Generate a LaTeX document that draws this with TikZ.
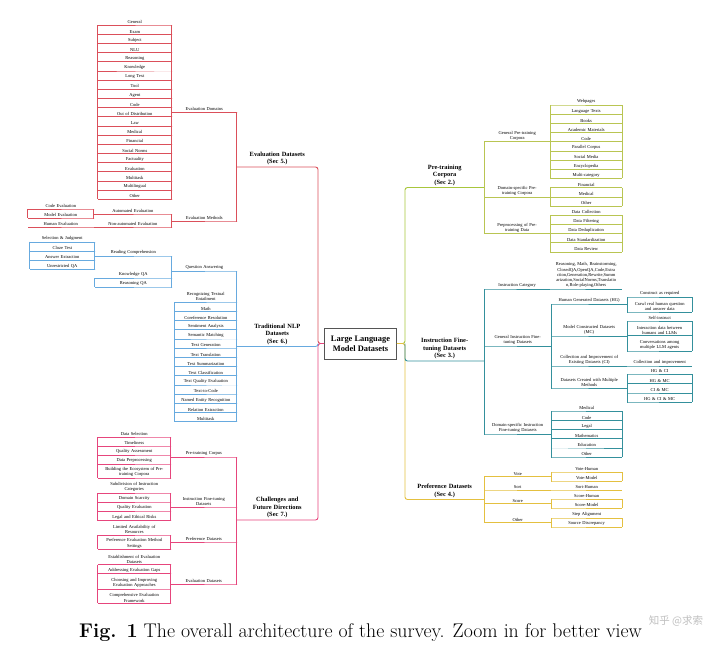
\documentclass[tikz,border=0pt]{standalone}
\usepackage{fontspec}
\newfontfamily\mapfont{Liberation Serif}
\newfontfamily\wmfont{Noto Sans CJK SC}
\definecolor{evalred}{HTML}{DB4F5A}
\definecolor{nlpblue}{HTML}{67AADF}
\definecolor{chalpink}{HTML}{E6457C}
\definecolor{ptgreen}{HTML}{A8C63C}
\definecolor{ptleaf}{HTML}{B9C552}
\definecolor{iftteal}{HTML}{34909C}
\definecolor{prefgold}{HTML}{E4C040}
\definecolor{rootgray}{HTML}{555555}
\tikzset{
  topic/.style={inner xsep=0pt, inner ysep=0.9pt, align=center,
    font=\mapfont\fontsize{4.5}{5.3}\selectfont},
  sect/.style={topic, inner ysep=1.6pt,
    font=\mapfont\bfseries\fontsize{6.4}{7.6}\selectfont},
  trunk/.style={line width=0.9pt, rounded corners=2.5pt},
  twig/.style={line width=0.38pt},
}
\begin{document}
\begin{tikzpicture}[x=1pt, y=-1pt]
    \useasboundingbox (0,0) rectangle (720,651);

    % root and the six sections
    \node[draw=rootgray, line width=0.8pt, minimum width=72pt, minimum height=31pt,
      inner sep=1pt, align=center, font=\mapfont\bfseries\fontsize{8.4}{10}\selectfont]
      (root) at (360.5,343.5) {Large Language\\Model Datasets};
    \node[sect, text width=81pt, anchor=south east] (evds) at (318,167) {Evaluation Datasets\\(Sec 5.)};
    \node[sect, text width=81pt, anchor=south east] (tnlp) at (318,346.5) {Traditional NLP\\Datasets\\(Sec 6.)};
    \node[sect, text width=81pt, anchor=south east] (chal) at (318,520) {Challenges and\\Future Directions\\(Sec 7.)};
    \node[sect, text width=79pt, anchor=south west] (ptc) at (405,187.5) {Pre-training\\Corpora\\(Sec 2.)};
    \node[sect, text width=79pt, anchor=south west] (ift) at (405,361) {Instruction Fine-\\tuning Datasets\\(Sec 3.)};
    \node[sect, text width=79pt, anchor=south west] (pref) at (405,499.5) {Preference Datasets\\(Sec 4.)};

    \draw[trunk, evalred] (root.west) -| (evds.south east) -- (evds.south west);
    \draw[trunk, chalpink] (root.west) -| (chal.south east) -- (chal.south west);
    \draw[trunk, nlpblue] (tnlp.south west) -- (tnlp.south east) -- (tnlp.south east |- root.west);
    \draw[trunk, ptgreen] (root.east) -| (ptc.south west) -- (ptc.south east);
    \draw[trunk, prefgold] (root.east) -| (pref.south west) -- (pref.south east);
    \draw[trunk, iftteal] (ift.south east) -- (ift.south west) -- (ift.south west |- root.east);

    % evaluation datasets
    \node[topic, text width=65pt, anchor=south east] (edom) at (237,111.7) {Evaluation Domains};
    \node[topic, text width=65pt, anchor=south east] (emet) at (237,221) {Evaluation Methods};
    \foreach \n in {edom, emet}
        \draw[twig, evalred] (evds.south west) |- (\n.south east) -- (\n.south west);
    \foreach \t [count=\i from 0] in {General, Exam, Subject, NLU, Reasoning, Knowledge, Long Text,
        Tool, Agent, Code, Out of Distribution, Law, Medical, Financial, Social Norms, Factuality,
        Evaluation, Multitask, Multilingual, Other} {
        \node[topic, text width=74pt, anchor=south east] (dom\i) at (172,25+9.16*\i) {\t};
        \draw[twig, evalred] (edom.south west) |- (dom\i.south east) -- (dom\i.south west);
    }
    \draw[twig, evalred] (dom0.south west) -- (dom19.south west);
    \node[topic, text width=78pt, anchor=south east] (auto) at (172,214) {Automated Evaluation};
    \node[topic, text width=78pt, anchor=south east] (nauto) at (172,227) {Non-automated Evaluation};
    \foreach \n in {auto, nauto}
        \draw[twig, evalred] (emet.south west) |- (\n.south east) -- (\n.south west);
    \node[topic, text width=66pt, anchor=south east] (codev) at (94,209) {Code Evaluation};
    \node[topic, text width=66pt, anchor=south east] (modev) at (94,218) {Model Evaluation};
    \node[topic, text width=66pt, anchor=south east] (humev) at (94,227) {Human Evaluation};
    \foreach \n in {codev, modev}
        \draw[twig, evalred] (auto.south west) |- (\n.south east) -- (\n.south west);
    \draw[twig, evalred] (codev.south west) -- (modev.south west);
    \draw[twig, evalred] (nauto.south west) -- (humev.south east) -- (humev.south west);

    % traditional nlp datasets
    \node[topic, text width=65pt, anchor=south east] (qa) at (237,271) {Question Answering};
    \draw[twig, nlpblue] (tnlp.south west) |- (qa.south east) -- (qa.south west);
    \foreach \y/\t [count=\i] in {302/{Recognizing Textual\\Entailment}, 311.2/Math,
        320.4/Coreference Resolution, 329.6/Sentiment Analysis, 338.8/Semantic Matching,
        348/Text Generation, 357.2/Text Translation, 366.4/Text Summarization,
        375.6/Text Classification, 384.8/Text Quality Evaluation, 394/Text-to-Code,
        403.2/Named Entity Recognition, 412.4/Relation Extraction, 421.6/Multitask} {
        \node[topic, text width=62pt, anchor=south east] (nlp\i) at (237,\y) {\t};
        \draw[twig, nlpblue] (tnlp.south west) |- (nlp\i.south east) -- (nlp\i.south west);
    }
    \draw[twig, nlpblue] (nlp1.south west) -- (nlp14.south west);
    \node[topic, text width=77pt, anchor=south east] (rc) at (172,256) {Reading Comprehension};
    \node[topic, text width=77pt, anchor=south east] (kqa) at (172,278) {Knowledge QA};
    \node[topic, text width=77pt, anchor=south east] (rqa) at (172,287) {Reasoning QA};
    \foreach \n in {rc, kqa, rqa}
        \draw[twig, nlpblue] (qa.south west) |- (\n.south east) -- (\n.south west);
    \draw[twig, nlpblue] (kqa.south west) -- (rqa.south west);
    \foreach \y/\t [count=\i] in {241.7/Selection \& Judgment, 250.9/Cloze Test,
        260.1/Answer Extraction, 269.3/Unrestricted QA} {
        \node[topic, text width=65pt, anchor=south east] (rcq\i) at (95,\y) {\t};
        \draw[twig, nlpblue] (rc.south west) |- (rcq\i.south east) -- (rcq\i.south west);
    }
    \draw[twig, nlpblue] (rcq1.south west) -- (rcq4.south west);

    % challenges and future directions
    \node[topic, text width=66pt, anchor=south east] (cpt) at (237,457) {Pre-training Corpus};
    \node[topic, text width=66pt, anchor=south east] (cift) at (237,507) {Instruction Fine-tuning\\Datasets};
    \node[topic, text width=66pt, anchor=south east] (cpd) at (237,542) {Preference Datasets};
    \node[topic, text width=66pt, anchor=south east] (ced) at (237,584) {Evaluation Datasets};
    \foreach \n in {cpt, cift, cpd, ced}
        \draw[twig, chalpink] (chal.south west) |- (\n.south east) -- (\n.south west);
    \foreach \p/\y/\t [count=\i] in {cpt/437/Data Selection, cpt/446/Timeliness,
        cpt/455/Quality Assessment, cpt/464/Data Preprocessing,
        cpt/478/{Building the Ecosystem of Pre-\\training Corpora},
        cift/493/{Subdivision of Instruction\\Categories}, cift/502/Domain Scarcity,
        cift/511/Quality Evaluation, cift/520.6/Legal and Ethical Risks,
        cpd/535/{Limited Availability of\\Resources}, cpd/549.3/{Preference Evaluation Method\\Settings},
        ced/564.5/{Establishment of Evaluation\\Datasets}, ced/573.3/Addressing Evaluation Gaps,
        ced/589/{Choosing and Improving\\Evaluation Approaches},
        ced/603.3/{Comprehensive Evaluation\\Framework}} {
        \node[topic, text width=73pt, anchor=south east] (cl\i) at (171,\y) {\t};
        \draw[twig, chalpink] (\p.south west) |- (cl\i.south east) -- (cl\i.south west);
    }
    \foreach \a/\b in {1/5, 6/9, 10/11, 12/15}
        \draw[twig, chalpink] (cl\a.south west) -- (cl\b.south west);

    % pre-training corpora
    \node[topic, text width=66pt, anchor=south west] (gpc) at (484,141.5) {General Pre-training\\Corpora};
    \node[topic, text width=66pt, anchor=south west] (dpc) at (484,196.7) {Domain-specific Pre-\\training Corpora};
    \node[topic, text width=66pt, anchor=south west] (ppd) at (484,233.4) {Preprocessing of Pre-\\training Data};
    \foreach \n in {gpc, dpc, ppd}
        \draw[twig, ptleaf] (ptc.south east) |- (\n.south west) -- (\n.south east);
    \foreach \p/\t [count=\i from 0] in {gpc/Webpages, gpc/Language Texts, gpc/Books,
        gpc/Academic Materials, gpc/Code, gpc/Parallel Corpus, gpc/Social Media,
        gpc/Encyclopedia, gpc/Multi-category, dpc/Financial, dpc/Medical, dpc/Other,
        ppd/Data Collection, ppd/Data Filtering, ppd/Data Deduplication,
        ppd/Data Standardization, ppd/Data Review} {
        \node[topic, text width=72pt, anchor=south west] (pt\i) at (550,105+9.17*\i) {\t};
        \draw[twig, ptleaf] (\p.south east) |- (pt\i.south west) -- (pt\i.south east);
    }
    \foreach \a/\b in {0/8, 9/11, 12/16}
        \draw[twig, ptleaf] (pt\a.south east) -- (pt\b.south east);

    % instruction fine-tuning datasets
    \node[topic, text width=66pt, anchor=south west] (icat) at (484,289) {Instruction Category};
    \node[topic, text width=67pt, anchor=south west] (gift) at (484,346) {General Instruction Fine-\\tuning Datasets};
    \node[topic, text width=67pt, anchor=south west] (dift) at (484,434) {Domain-specific Instruction\\Fine-tuning Datasets};
    \foreach \n in {icat, gift, dift}
        \draw[twig, iftteal] (ift.south east) |- (\n.south west) -- (\n.south east);
    \node[topic, text width=72pt, anchor=south west] (icl) at (550,289)
        {Reasoning, Math, Brainstorming,\\ClosedQA,OpenQA,Code,Extra\\ction,Generation,Rewrite,Summ\\arization,SocialNorms,Translatio\\n,Role-playing,Others};
    \draw[twig, iftteal] (icat.south east) -- (icl.south west) -- (icl.south east);
    \node[topic, text width=76pt, anchor=south west] (hg) at (551,304) {Human Generated Datasets (HG)};
    \node[topic, text width=76pt, anchor=south west] (mc) at (551,336) {Model Constructed Datasets\\(MC)};
    \node[topic, text width=76pt, anchor=south west] (ci) at (551,366) {Collection and Improvement of\\Existing Datasets (CI)};
    \node[topic, text width=76pt, anchor=south west] (mm) at (551,388) {Datasets Created with Multiple\\Methods};
    \foreach \n in {hg, mc, ci, mm}
        \draw[twig, iftteal] (gift.south east) |- (\n.south west) -- (\n.south east);
    \foreach \p/\y/\t [count=\i] in {hg/297/Construct as required,
        hg/312/{Crawl real human question\\and answer data}, mc/321/Self-instruct,
        mc/335.5/{Interaction data between\\humans and LLMs},
        mc/351/{Conversations among\\multiple LLM agents}, ci/366/Collection and improvement,
        mm/374/HG \& CI, mm/383.5/HG \& MC, mm/393/CI \& MC, mm/402/HG \& CI \& MC} {
        \node[topic, text width=65pt, anchor=south west] (gl\i) at (627,\y) {\t};
        \draw[twig, iftteal] (\p.south east) |- (gl\i.south west) -- (gl\i.south east);
    }
    \foreach \a/\b in {1/2, 3/5, 7/10}
        \draw[twig, iftteal] (gl\a.south east) -- (gl\b.south east);
    \foreach \t [count=\i from 0] in {Medical, Code, Legal, Mathematics, Education, Other} {
        \node[topic, text width=71pt, anchor=south west] (dl\i) at (551,411+9.2*\i) {\t};
        \draw[twig, iftteal] (dift.south east) |- (dl\i.south west) -- (dl\i.south east);
    }
    \draw[twig, iftteal] (dl0.south east) -- (dl5.south east);

    % preference datasets
    \foreach \n/\y/\t in {vote/476.5/Vote, sort/490/Sort, score/503.5/Score, oth/522.5/Other} {
        \node[topic, text width=67pt, anchor=south west] (\n) at (484,\y) {\t};
        \draw[twig, prefgold] (pref.south east) |- (\n.south west) -- (\n.south east);
    }
    \foreach \p/\y/\t [count=\i] in {vote/472/Vote-Human, vote/481/Vote-Model,
        sort/490/Sort-Human, score/499/Score-Human, score/508/Score-Model,
        oth/518/Step Alignment, oth/527/Source Discrepancy} {
        \node[topic, text width=71pt, anchor=south west] (pl\i) at (551,\y) {\t};
        \draw[twig, prefgold] (\p.south east) |- (pl\i.south west) -- (pl\i.south east);
    }
    \foreach \a/\b in {1/2, 4/5, 6/7}
        \draw[twig, prefgold] (pl\a.south east) -- (pl\b.south east);

    % caption and watermark
    \node[anchor=base, inner sep=0pt, font=\fontsize{19.8}{23}\selectfont] (cap) at (360.5,637)
        {\textbf{Fig. 1} The overall architecture of the survey. Zoom in for better view};
    \node[inner sep=0pt, text=gray!50, font=\wmfont\fontsize{10.5}{12}\selectfont] (wm) at (676,621) {知乎 @求索};
\end{tikzpicture}
\end{document}
